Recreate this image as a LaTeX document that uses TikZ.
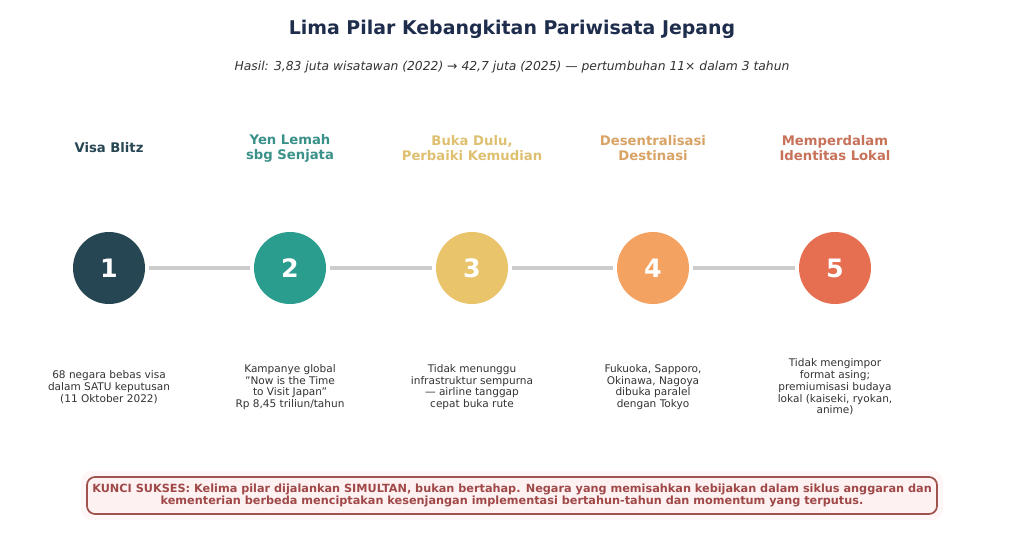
\documentclass[tikz,border=0pt]{standalone}
\usepackage{fontspec}
\setmainfont{DejaVu Sans}
\definecolor{titlec}{HTML}{1F2D4D}
\definecolor{subc}{HTML}{333333}
\definecolor{cA}{HTML}{264653}
\definecolor{cB}{HTML}{2A9D8F}
\definecolor{cC}{HTML}{E9C46A}
\definecolor{cD}{HTML}{F4A261}
\definecolor{cE}{HTML}{E76F51}
\definecolor{lA}{HTML}{264653}
\definecolor{lB}{HTML}{3A9189}
\definecolor{lC}{HTML}{DFC070}
\definecolor{lD}{HTML}{D9A365}
\definecolor{lE}{HTML}{C8725A}
\definecolor{linec}{HTML}{CCCCCC}
\definecolor{boxborder}{HTML}{A0524C}
\definecolor{boxfill}{HTML}{FDF1F1}
\definecolor{boxtext}{HTML}{A04848}
\newcommand{\sq}{\symbol{34}}
\begin{document}
\begin{tikzpicture}[x=0.75pt,y=-0.75pt,
  pillar/.style={circle,minimum size=54pt,inner sep=0pt,fill=#1,text=white,font=\fontsize{19}{22}\selectfont\bfseries},
  ptitle/.style={align=center,text=#1,font=\fontsize{9.9}{11.2}\selectfont\bfseries},
  pdesc/.style={align=center,text=subc,font=\fontsize{7.9}{8.8}\selectfont},
  conn/.style={draw=linec,line width=3pt}]
\useasboundingbox (0,0) rectangle (1024,536);
\fill[white] (0,0) rectangle (1024,536);
\node[text=titlec,font=\fontsize{14.2}{17}\selectfont\bfseries] (title) at (512,29) {Lima Pilar Kebangkitan Pariwisata Jepang};
\node[text=subc,font=\fontsize{9.25}{11}\selectfont\itshape] (sub) at (512,67) {Hasil: 3,83 juta wisatawan (2022) → 42,7 juta (2025) — pertumbuhan 11× dalam 3 tahun};

\node[pillar=cA] (p1) at (109,268) {1};
\node[pillar=cB] (p2) at (290,268) {2};
\node[pillar=cC] (p3) at (472,268) {3};
\node[pillar=cD] (p4) at (653,268) {4};
\node[pillar=cE] (p5) at (835,268) {5};

\draw[conn] ([xshift=3pt]p1.east) -- ([xshift=-3pt]p2.west);
\draw[conn] ([xshift=3pt]p2.east) -- ([xshift=-3pt]p3.west);
\draw[conn] ([xshift=3pt]p3.east) -- ([xshift=-3pt]p4.west);
\draw[conn] ([xshift=3pt]p4.east) -- ([xshift=-3pt]p5.west);

\node[ptitle=lA] (t1) at (109,148) {Visa Blitz};
\node[ptitle=lB] (t2) at (290,148) {Yen Lemah\\sbg Senjata};
\node[ptitle=lC] (t3) at (472,148) {Buka Dulu,\\Perbaiki Kemudian};
\node[ptitle=lD] (t4) at (653,148) {Desentralisasi\\Destinasi};
\node[ptitle=lE] (t5) at (835,148) {Memperdalam\\Identitas Lokal};

\node[pdesc] (d1) at (109,387) {68 negara bebas visa\\dalam SATU keputusan\\(11 Oktober 2022)};
\node[pdesc] (d2) at (290,387) {Kampanye global\\\sq Now is the Time\\to Visit Japan\sq\\Rp 8,45 triliun/tahun};
\node[pdesc] (d3) at (472,387) {Tidak menunggu\\infrastruktur sempurna\\— airline tanggap\\cepat buka rute};
\node[pdesc] (d4) at (653,387) {Fukuoka, Sapporo,\\Okinawa, Nagoya\\dibuka paralel\\dengan Tokyo};
\node[pdesc] (d5) at (835,387) {Tidak mengimpor\\format asing;\\premiumisasi budaya\\lokal (kaiseki, ryokan,\\anime)};

\fill[pink!12,rounded corners=8pt] (81,471) rectangle (943,520);
\draw[draw=boxborder,fill=boxfill,line width=1.3pt,rounded corners=6pt] (87,477) rectangle (937,514);
\node[align=center,text=boxtext,font=\fontsize{8.45}{9}\selectfont\bfseries] (key) at (512,495.5) {KUNCI SUKSES: Kelima pilar dijalankan SIMULTAN, bukan bertahap. Negara yang memisahkan kebijakan dalam siklus anggaran dan\\kementerian berbeda menciptakan kesenjangan implementasi bertahun-tahun dan momentum yang terputus.};
\end{tikzpicture}
\end{document}
